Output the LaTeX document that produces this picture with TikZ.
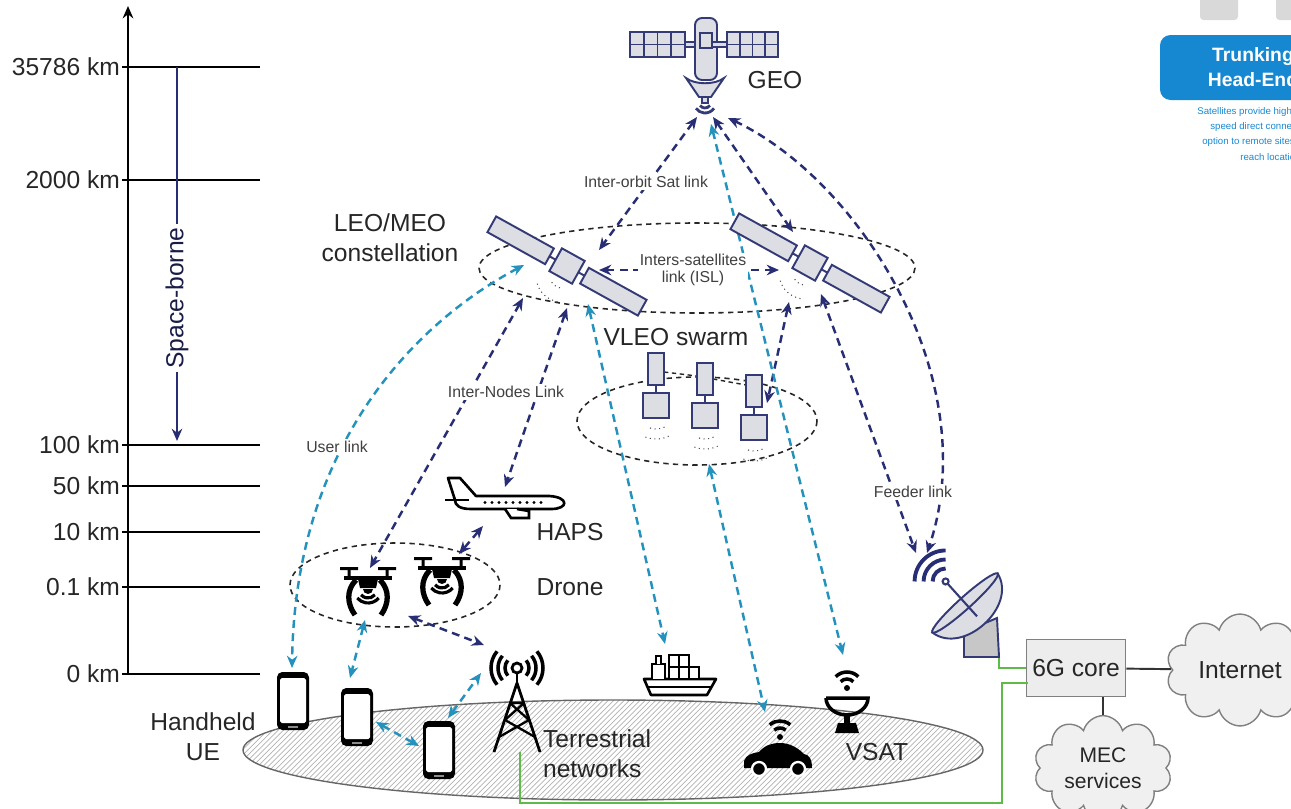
\documentclass[tikz,border=0pt]{standalone}
\usepackage{fontspec}
\setmainfont{Liberation Sans}
\usepackage{tikz}
\usetikzlibrary{arrows.meta,patterns,shapes.symbols}

\definecolor{navy}{RGB}{40,46,116}
\definecolor{linkteal}{RGB}{36,146,188}
\definecolor{satgray}{RGB}{221,222,228}
\definecolor{satedge}{RGB}{52,58,118}
\definecolor{wiregreen}{RGB}{96,186,72}
\definecolor{trunkblue}{RGB}{22,136,210}

\tikzset{
  bigtxt/.style={font=\fontsize{14}{17}\selectfont, text=black!85, inner sep=1pt},
  smalltxt/.style={font=\fontsize{9}{9.5}\selectfont, text=black!75, fill=white, inner sep=1pt, align=center},
  ticklbl/.style={font=\fontsize{14}{17}\selectfont, text=black!85, anchor=east, inner sep=1pt},
  satline/.style={draw=satedge, fill=satgray, line width=1.1pt},
  dishline/.style={draw=satedge, fill=satgray, line width=1.1pt},
  orbit/.style={black!85, line width=0.9pt, dash pattern=on 3pt off 2.5pt},
  navylink/.style={navy, line width=1.4pt, dash pattern=on 4.5pt off 3pt, <->},
  teallink/.style={linkteal, line width=1.4pt, dash pattern=on 4.5pt off 3pt, <->},
  wire/.style={wiregreen, line width=1.3pt},
  icon/.style={black, line width=1.5pt, fill=white},
  cloudbox/.style={cloud, cloud puffs=10, aspect=1.6, draw=black!50, fill=black!6,
    line width=0.8pt, font=\fontsize{14}{17}\selectfont, text=black!85, align=center},
  leosat/.pic={
    \draw[satline] (-20,-9) rectangle (-86,9);
    \draw[satline] (20,-9) rectangle (86,9);
    \draw[satedge, line width=1.1pt] (-20,0) -- (-13,0) (13,0) -- (20,0);
    \draw[satline] (-13,-13) rectangle (13,13);
  },
  vleosat/.pic={
    \draw[satline] (-8,-16) rectangle (8,16);
    \draw[satedge, line width=0.9pt] (0,16) -- (0,24);
    \draw[satline] (-13,24) rectangle (13,49);
    \foreach \r in {20,30}
      \draw[black!70, line width=0.6pt, dotted] (0,40) ++(65:\r) arc[start angle=65, end angle=115, radius=\r];
  },
  phone/.pic={
    \fill[black, rounded corners=3pt] (-16,-29) rectangle (16,29);
    \fill[white, rounded corners=1pt] (-13,-23) rectangle (13,22);
    \fill[black!45] (-5,24.5) rectangle (5,26.5);
  },
  drone/.pic={
    \fill (-28,-25) rectangle (-10,-22) (10,-25) rectangle (28,-22);
    \fill (-20.5,-23) rectangle (-17.5,-15) (17.5,-23) rectangle (20.5,-15);
    \fill (-24,-16) rectangle (24,-12);
    \fill (-10,-13) -- (10,-13) -- (8,-4) -- (-8,-4) -- cycle;
    \fill (-5,-3) arc[start angle=180, end angle=0, radius=5] -- cycle;
    \foreach \r in {9,14}
      \draw[line width=1.8pt] (0,-3) ++(40:\r) arc[start angle=40, end angle=140, radius=\r];
    \draw[line width=3pt] (-12,-12) .. controls (-22,-2) and (-21,12) .. (-13,23);
    \draw[line width=3pt] (12,-12) .. controls (22,-2) and (21,12) .. (13,23);
  }
}

\begin{document}
\begin{tikzpicture}[x=0.02cm, y=-0.02cm, >={Stealth[length=7pt,width=6pt]}]
\useasboundingbox (0,0) rectangle (1291,808);
\clip (0,0) rectangle (1291,808);

% altitude scale
\draw[line width=1.2pt, ->] (128,674) -- (128,6);
\foreach \yy/\lab/\nm/\lw in {67/35786/geoalt/1.6pt, 180/2000/meoalt/1pt, 445/100/vleoalt/1pt,
    486/50/hapsalt/1.6pt, 532/10/planealt/1pt, 587/0.1/dronealt/1pt, 674/0/groundalt/1pt}
{
  \draw[line width=\lw] (122,\yy) -- (260,\yy);
  \node[ticklbl] (\nm) at (122,\yy) {\lab\ km};
}
\draw[navy, line width=1pt, ->] (177,67) -- (177,441);
\node[rotate=90, fill=white, inner sep=2pt, font=\fontsize{14}{17}\selectfont, text=navy!60!black] (spaceborne) at (177,298) {Space-borne};

% ground area
\path[pattern=north east lines, pattern color=black!30] (613,750) ellipse [x radius=370, y radius=50];
\draw[black!60, line width=0.8pt] (613,750) ellipse [x radius=370, y radius=50];

% orbits and clusters
\draw[orbit] (697,268) ellipse [x radius=218, y radius=45];
\draw[orbit] (697,421) ellipse [x radius=120, y radius=44];
\draw[orbit] (395,585) ellipse [x radius=105, y radius=42];

% wires to the core
\node[draw=black!50, fill=black!7, line width=0.8pt, minimum width=1.92cm, minimum height=1.14cm,
  font=\fontsize{14}{17}\selectfont, text=black!85] (core) at (1076,668) {6G core};
\coordinate (towerfoot) at (520,752);
\coordinate (dishfoot) at (999,656);
\draw[wire] (towerfoot) -- (520,803) -- (1002,803) -- (1002,683) -- (1028,683);
\draw[wire] (dishfoot) |- (core.west);

% link end points
\coordinate (geoSW) at (697,117);
\coordinate (geoS) at (713,117);
\coordinate (geoSE) at (728,118);
\coordinate (geoT) at (711,124);
\coordinate (leoAtop) at (599,250);
\coordinate (leoBtop) at (793,232);
\coordinate (leoAisl) at (599,270);
\coordinate (leoBisl) at (779,270);
\coordinate (leoAdn) at (523,298);
\coordinate (leoAdn2) at (567,308);
\coordinate (leoAuser) at (524,265);
\coordinate (leoAship) at (588,304);
\coordinate (leoBdn) at (789,302);
\coordinate (leoBdn2) at (821,294);
\coordinate (gsA) at (916,553);
\coordinate (gsB) at (927,553);
\coordinate (vleoC) at (767,403);
\coordinate (vleobot) at (709,464);
\coordinate (hapstop) at (505,487);
\coordinate (hapsbot) at (483,526);
\coordinate (droneAtop) at (370,568);
\coordinate (droneAbot) at (365,620);
\coordinate (droneAside) at (408,616);
\coordinate (droneBtop) at (459,554);
\coordinate (towertop) at (484,645);
\coordinate (towerside) at (481,673);
\coordinate (ueAtop) at (292,668);
\coordinate (ueBtop) at (350,678);
\coordinate (ueBside) at (376,722);
\coordinate (ueCside) at (419,746);
\coordinate (ueCtop) at (448,718);
\coordinate (shiptop) at (665,644);
\coordinate (vsattop) at (843,655);
\coordinate (cartop) at (765,712);

% links
\draw[navylink] (geoSW) -- (leoAtop);
\draw[navylink] (geoS) -- (leoBtop);
\draw[navylink] (geoSE) .. controls (860,180) and (985,380) .. (gsB);
\draw[navylink] (leoAisl) -- (leoBisl);
\draw[navylink] (leoAdn) -- (droneAtop);
\draw[navylink] (leoAdn2) -- (hapstop);
\draw[navylink] (hapsbot) -- (droneBtop);
\draw[navylink] (droneAside) -- (towertop);
\draw[navylink] (leoBdn) -- (vleoC);
\draw[navylink] (leoBdn2) -- (gsA);
\draw[teallink] (leoAuser) .. controls (420,320) and (295,440) .. (ueAtop);
\draw[teallink] (leoAship) -- (shiptop);
\draw[teallink] (geoT) -- (vsattop);
\draw[teallink] (vleobot) -- (cartop);
\draw[teallink] (droneAbot) -- (ueBtop);
\draw[teallink] (ueBside) -- (ueCside);
\draw[teallink] (ueCtop) -- (towerside);

% GEO satellite
\draw[satline] (630,32) rectangle (685,57);
\draw[satline] (727,32) rectangle (778,57);
\foreach \i in {1,2,3} {
  \draw[satedge, line width=1.1pt] ({630+13.75*\i},32) -- ({630+13.75*\i},57);
  \draw[satedge, line width=1.1pt] ({727+12.75*\i},32) -- ({727+12.75*\i},57);
}
\draw[satedge, line width=1.1pt] (630,44.5) -- (685,44.5) (727,44.5) -- (778,44.5);
\draw[satline] (685,42) rectangle (695,47);
\draw[satline, rounded corners=4pt] (695,18) rectangle (717,80);
\draw[satline] (700,33) rectangle (712,48);
\draw[satline] (712,42) rectangle (727,47);
\draw[satline] (686,78) .. controls (695,85) and (715,85) .. (724,78) -- (711,97) -- (699,97) -- cycle;
\draw[satline] (702,97) rectangle (708,103);
\foreach \r in {6,11}
  \draw[satedge, line width=1.6pt] (705,102) ++(35:\r) arc[start angle=35, end angle=145, radius=\r];
\node[bigtxt] (geolbl) at (775,80) {GEO};

% LEO/MEO satellites
\pic[rotate=-29] at (567,266) {leosat};
\pic[rotate=-29] at (810,263) {leosat};
\foreach \cx/\cy in {562/276, 805/273}
  \foreach \r in {12,26}
    \draw[black!70, line width=0.6pt, dotted] (\cx,\cy) ++(100:\r) arc[start angle=100, end angle=165, radius=\r];

% VLEO swarm
\draw[black!85, line width=0.8pt, dash pattern=on 2.5pt off 2pt] (664,372) -- (697,376) (713,379) -- (746,385);
\pic at (656,369) {vleosat};
\pic at (705,379) {vleosat};
\pic at (754,391) {vleosat};

% HAPS
\begin{scope}[shift={(445,478)}]
  \draw[icon, line join=round] (10,22) -- (3,0) -- (15,0) -- (31,18) -- (104,18)
    .. controls (124,19) and (124,31) .. (106,31) -- (26,31) .. controls (14,31) and (10,27) .. cycle;
  \draw[icon] (0,22) -- (24,22);
  \draw[icon] (60,31) -- (66,40) -- (84,40) -- (84,33) -- (72,31);
  \foreach \wx in {40,47,...,96}
    \fill (\wx,24.5) circle (1.6);
\end{scope}

% drones
\pic at (368,592) {drone};
\pic at (442,582) {drone};

% handheld devices
\pic at (293,701) {phone};
\pic at (357,717) {phone};
\pic at (439,750) {phone};

% terrestrial tower
\draw[line width=1.6pt, line join=round] (494,752) -- (517,683) -- (540,752);
\draw[line width=1.3pt] (510,703) -- (529,720) (524,703) -- (505,720)
  (505,720) -- (535,737) (529,720) -- (499,737) (510,703) -- (524,703);
\draw[line width=1.6pt] (517,673) -- (517,683);
\draw[line width=1.6pt] (517,668) circle (5);
\foreach \r in {12,19,26} {
  \draw[line width=2pt] (517,668) ++(140:\r) arc[start angle=140, end angle=220, radius=\r];
  \draw[line width=2pt] (517,668) ++(-40:\r) arc[start angle=-40, end angle=40, radius=\r];
}

% ship
\begin{scope}[shift={(644,650)}]
  \draw[icon, line join=round] (0,29) -- (72,29) -- (63,45) -- (7,45) -- cycle;
  \draw[icon] (4,37) -- (68,37);
  \draw[icon] (8,29) -- (8,14) -- (21,14) -- (21,29);
  \draw[icon] (12,14) -- (12,6) -- (17,6) -- (17,14);
  \draw[icon] (25,5) rectangle (35,17) (35,5) rectangle (45,17);
  \draw[icon] (25,17) rectangle (35,29) (35,17) rectangle (45,29) (45,17) rectangle (55,29);
\end{scope}

% car
\begin{scope}[shift={(744,740)}]
  \fill (0,28) -- (0,21) .. controls (2,15) and (8,13) .. (15,12) .. controls (21,5) and (28,3) .. (36,3)
    .. controls (46,3) and (54,8) .. (60,14) .. controls (66,15) and (68,20) .. (68,28) -- cycle;
  \filldraw[fill=black, draw=white, line width=1.3pt] (15,29) circle (7);
  \filldraw[fill=black, draw=white, line width=1.3pt] (54,29) circle (7);
  \fill (36,-3) circle (3);
  \foreach \r in {9,16}
    \draw[line width=2pt] (36,-3) ++(-50:\r) arc[start angle=-50, end angle=-130, radius=\r];
\end{scope}

% VSAT
\fill (847,688) circle (3);
\foreach \r in {9,16}
  \draw[line width=2pt] (847,688) ++(-45:\r) arc[start angle=-45, end angle=-135, radius=\r];
\draw[line width=2pt] (826,698) -- (868,698) arc[start angle=0, end angle=180, x radius=21, y radius=17];
\fill (844,714) rectangle (850,725);
\fill (835,733) -- (838,723) -- (856,723) -- (859,733) -- cycle;
\node[bigtxt] (vsatlbl) at (877,752) {VSAT};

% ground station
\draw[dishline, fill=black!22] (964,632) -- (964,657) -- (999,657) -- (997,618) -- cycle;
\begin{scope}[shift={(965,603)}, rotate=42]
  \draw[dishline] (-44,0) .. controls (-37,38) and (37,38) .. (44,0) -- cycle;
  \draw[dishline] (0,0) ellipse [x radius=44, y radius=6];
  \draw[satedge, line width=1.2pt] (0,18) -- (0,-26);
  \draw[satedge, fill=white, line width=1.2pt] (0,-29) circle (3);
  \coordinate (gsfeed) at (0,-29);
\end{scope}
\foreach \r in {13,22,31}
  \draw[navy, line width=2.2pt] (gsfeed) ++(180:\r) arc[start angle=180, end angle=270, radius=\r];

% core network side
\node[cloudbox, minimum width=2.3cm, minimum height=1.5cm] (internet) at (1240,670) {Internet};
\node[cloudbox, minimum width=1.75cm, minimum height=1.4cm, font=\fontsize{12}{15}\selectfont] (mec) at (1103,768) {MEC\\services};
\draw[black!80, line width=1.1pt] (core) -- (internet);
\draw[black!80, line width=1.1pt] (mec.north |- core.south) -- (mec.north);

% labels
\node[bigtxt, align=center] (leolbl) at (390,238) {LEO/MEO\\constellation};
\node[bigtxt] (vleolbl) at (676,337) {VLEO swarm};
\node[bigtxt] (hapslbl) at (570,532) {HAPS};
\node[bigtxt] (dronelbl) at (570,587) {Drone};
\node[bigtxt, align=center] (uelbl) at (203,737) {Handheld\\UE};
\node[bigtxt, align=left, anchor=west] (terrlbl) at (541,754) {Terrestrial\\networks};
\node[smalltxt] (interorbit) at (646,182) {Inter-orbit Sat link};
\node[smalltxt] (isl) at (693,270) {Inters-satellites\\link (ISL)};
\node[smalltxt] (internodes) at (506,392) {Inter-Nodes Link};
\node[smalltxt] (userlink) at (337,447) {User link};
\node[smalltxt] (feeder) at (913,492) {Feeder link};

% neighbouring panel, cut at the edge
\fill[trunkblue, rounded corners=6pt] (1160,35) rectangle (1340,100);
\node[font=\bfseries\fontsize{11}{14}\selectfont, text=white, align=center] (trunk) at (1253,67) {Trunking\\Head-End};
\begin{scope}[font=\fontsize{5.5}{6.5}\selectfont, text=trunkblue]
  \node[anchor=west, inner sep=0pt] (tr1) at (1197,112) {Satellites provide high-};
  \node[anchor=west, inner sep=0pt] (tr2) at (1210,127) {speed direct connectivity};
  \node[anchor=west, inner sep=0pt] (tr3) at (1202,142) {option to remote sites to};
  \node[anchor=west, inner sep=0pt] (tr4) at (1240,157) {reach locations};
\end{scope}
\fill[black!15, rounded corners=2pt] (1200,-5) rectangle (1238,20);
\fill[black!15, rounded corners=2pt] (1276,-5) rectangle (1300,20);
\end{tikzpicture}
\end{document}
